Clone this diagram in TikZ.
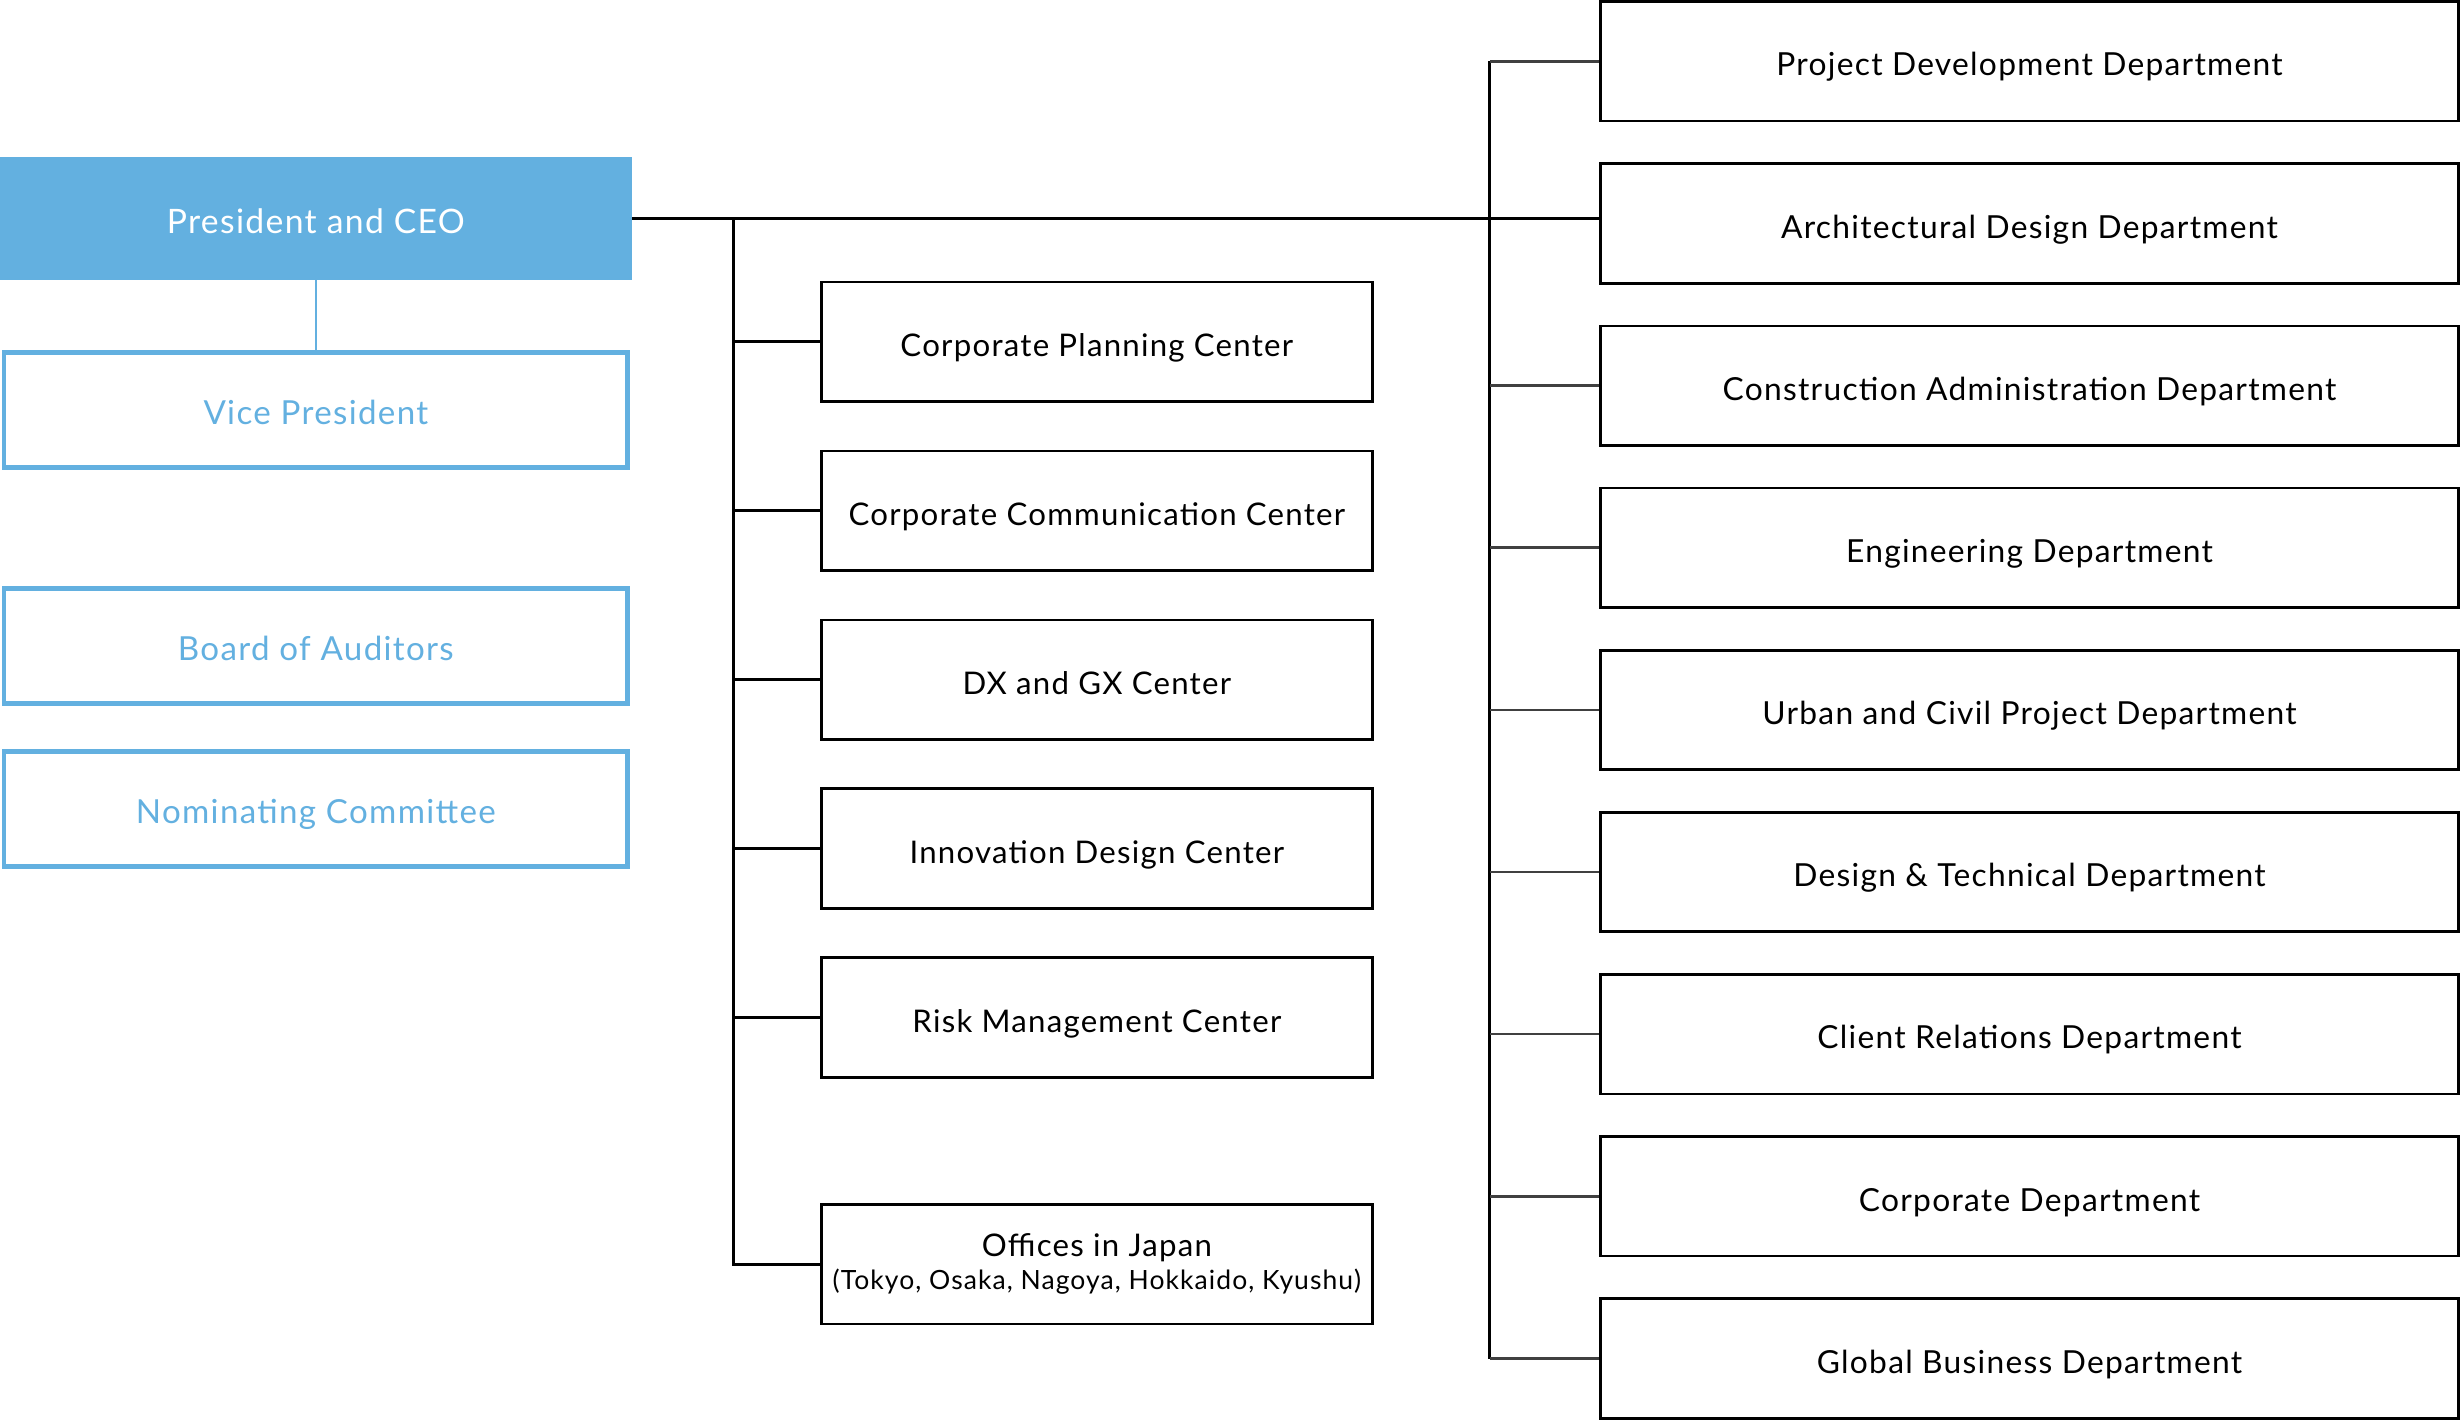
\documentclass[tikz,border=0pt]{standalone}
\usepackage{fontspec}
\setmainfont{Lato}[LetterSpace=4]
\usetikzlibrary{positioning,chains}
\definecolor{ceoblue}{RGB}{99,176,224}

\begin{document}
\begin{tikzpicture}[x=0.02cm, y=-0.02cm, font=\fontsize{11.3}{13}\selectfont,
    unit/.style={rectangle, draw=black, line width=1pt, minimum width=7.02cm, minimum height=1.52cm, inner sep=0pt, align=center, text height=2.1ex, text depth=0pt},
    dept/.style={unit, minimum width=10.92cm, font=\fontsize{11.5}{13}\selectfont},
    board/.style={rectangle, draw=ceoblue, line width=1.8pt, text=ceoblue, minimum width=7.94cm, minimum height=1.46cm, inner sep=0pt, text height=2.1ex, text depth=0pt, font=\fontsize{12}{14}\selectfont},
    tick/.style={draw=black!75, line width=0.9pt}]
    \useasboundingbox (0,0) rectangle (1568,905);
    % Top
    \node[fill=ceoblue, text=white, minimum width=8.04cm, minimum height=1.56cm, inner sep=0pt, text height=2.2ex, text depth=0pt, font=\fontsize{12.2}{14}\selectfont] (ceo) at (201,139) {President and CEO};
    \node[board] (vp) at (201,261) {Vice President};
    \node[board] (aud) at (201,411) {Board of Auditors};
    \node[board] (nom) at (201,515) {Nominating Committee};
    \draw[ceoblue, line width=0.8pt] (ceo) -- (vp);
    % Centers
    \begin{scope}[start chain=mid going below, node distance=0.595cm]
        \node[unit, on chain=mid] (plan) at (698,217.5) {Corporate Planning Center};
        \node[unit, on chain=mid] (comm) {Corporate Communication Center};
        \node[unit, on chain=mid] (dxgx) {DX and GX Center};
        \node[unit, on chain=mid] (inno) {Innovation Design Center};
        \node[unit, on chain=mid] (risk) {Risk Management Center};
    \end{scope}
    \node[unit, text height=, text depth=] (offi) at (698,804.5) {Offices in Japan\\[-1pt]{\fontsize{9.6}{11}\selectfont (Tokyo, Osaka, Nagoya, Hokkaido, Kyushu)}};
    % Departments
    \begin{scope}[start chain=dep going below, node distance=0.509cm]
        \node[dept, on chain=dep] (proj) at (1291.5,39) {Project Development Department};
        \node[dept, on chain=dep] (arch) {Architectural Design Department};
        \node[dept, on chain=dep] (cons) {Construction Administration Department};
        \node[dept, on chain=dep] (engi) {Engineering Department};
        \node[dept, on chain=dep] (urba) {Urban and Civil Project Department};
        \node[dept, on chain=dep] (desi) {Design \& Technical Department};
        \node[dept, on chain=dep] (clie) {Client Relations Department};
        \node[dept, on chain=dep] (corp) {Corporate Department};
        \node[dept, on chain=dep] (glob) {Global Business Department};
    \end{scope}
    % Lines
    \coordinate (lbus) at (467,139);
    \coordinate (rbus) at (948,139);
    \draw[line width=1pt] (ceo.east) -- (ceo.east -| arch.west);
    \draw[line width=1pt] (lbus) |- (offi.west);
    \foreach \n in {plan,comm,dxgx,inno,risk}
        \draw[line width=1pt] (\n.west) -- (\n.west -| lbus);
    \draw[line width=1pt] (proj.west -| rbus) -- (glob.west -| rbus);
    \foreach \n in {proj,cons,engi,urba,desi,clie,corp,glob}
        \draw[tick] (\n.west) -- (\n.west -| rbus);
\end{tikzpicture}
\end{document}
